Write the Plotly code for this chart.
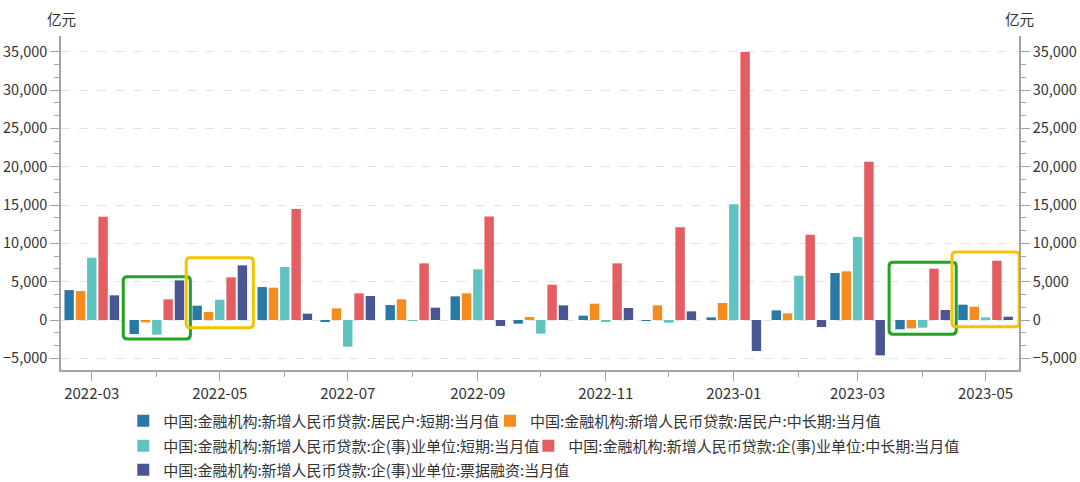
import plotly.graph_objects as go
from datetime import datetime, timedelta

# ---------------- data ----------------
months = ["2022-03", "2022-04", "2022-05", "2022-06", "2022-07", "2022-08", "2022-09",
          "2022-10", "2022-11", "2022-12", "2023-01", "2023-02", "2023-03", "2023-04", "2023-05"]

series_names = [
    "中国:金融机构:新增人民币贷款:居民户:短期:当月值",
    "中国:金融机构:新增人民币贷款:居民户:中长期:当月值",
    "中国:金融机构:新增人民币贷款:企(事)业单位:短期:当月值",
    "中国:金融机构:新增人民币贷款:企(事)业单位:中长期:当月值",
    "中国:金融机构:新增人民币贷款:企(事)业单位:票据融资:当月值",
]

household_short = [3900, -1830, 1870, 4300, -130, 1950, 3090, -480, 570, -40, 350, 1260, 6130, -1220, 2000]
household_long = [3780, -300, 1040, 4220, 1520, 2700, 3480, 390, 2130, 1910, 2220, 870, 6350, -1090, 1740]
corp_short = [8130, -1910, 2650, 6910, -3480, -90, 6610, -1780, -220, -350, 15090, 5780, 10830, -1000, 350]
corp_long = [13480, 2700, 5570, 14480, 3480, 7390, 13520, 4610, 7390, 12090, 34950, 11130, 20650, 6700, 7740]
corp_bill = [3220, 5170, 7130, 830, 3130, 1610, -780, 1910, 1570, 1130, -4040, -910, -4610, 1300, 430]

series_values = [household_short, household_long, corp_short, corp_long, corp_bill]
series_colors = ["#2a78a6", "#f68b1f", "#5fc3c2", "#e35d61", "#4a5593"]

y_ticks = [-5000, 0, 5000, 10000, 15000, 20000, 25000, 30000, 35000]
y_range = [-6520, 37050]
x_range = ["2022-02-14 08:00", "2023-05-16 22:00"]

# highlight boxes: (month, colour, lower value, upper value)
highlights = [
    ("2022-04", "#22a322", -2480, 5650),
    ("2022-05", "#f7c200", -1000, 8130),
    ("2023-04", "#22a322", -1870, 7530),
    ("2023-05", "#f7c200", -870, 8870),
]

# ---------------- styling constants ----------------
DAY_MS = 86400000
pitch_days = 5.39
width_days = 4.48
box_half_days = 16.0
axis_color = "#a3a3a3"
font_family = "Noto Sans CJK SC, Noto Sans, sans-serif"
# legend placement for each series (paper coords): (x, y)
legend_pos = [(0.065, -0.1527), (0.4478, -0.1527),
              (0.065, -0.2275), (0.4878, -0.2275),
              (0.065, -0.2994)]
legend_ids = ["legend", "legend2", "legend3", "legend4", "legend5"]

x_dates = [m + "-01" for m in months]

fig = go.Figure()
n = len(series_values)
for i, (name, vals, col) in enumerate(zip(series_names, series_values, series_colors)):
    center = (i - (n - 1) / 2) * pitch_days
    fig.add_trace(go.Bar(
        x=x_dates, y=vals, name=name,
        marker=dict(color=col, line=dict(width=0)),
        width=width_days * DAY_MS,
        offset=(center - width_days / 2) * DAY_MS,
        legend=legend_ids[i],
        hovertemplate="%{x|%Y-%m}: %{y:,}<extra></extra>",
    ))

# minor ticks for y: thirds between major ticks
step = y_ticks[1] - y_ticks[0]
minor_y = []
for t in y_ticks:
    for k in (1, 2):
        v = t - step * k / 3
        if y_range[0] <= v <= y_range[1]:
            minor_y.append(v)

yaxis_common = dict(
    range=y_range, automargin=False,
    tickmode="array", tickvals=y_ticks,
    tickformat=",d",
    showline=True, linecolor=axis_color, linewidth=1.5,
    ticks="outside", ticklen=9, tickcolor=axis_color, tickwidth=1.2,
    tickfont=dict(size=14.5, color="#333333", family=font_family),
    minor=dict(tickmode="array", tickvals=minor_y, ticks="outside", ticklen=5,
               tickcolor=axis_color, tickwidth=1.2, showgrid=False),
    zeroline=False,
)

legend_common = dict(
    orientation="h", xanchor="left", yanchor="middle",
    font=dict(size=15, color="#333333", family=font_family),
    bgcolor="rgba(0,0,0,0)",
)

legend_layout = {lid: dict(**legend_common, x=px, y=py) for lid, (px, py) in zip(legend_ids, legend_pos)}

fig.update_layout(
    width=1080, height=482,
    margin=dict(l=61, r=61, t=36, b=112, autoexpand=False),
    paper_bgcolor="white", plot_bgcolor="white",
    barmode="overlay",
    font=dict(family=font_family, color="#333333"),
    xaxis=dict(
        type="date", range=x_range, automargin=False,
        dtick="M2", tick0="2022-03-01", tickformat="%Y-%m",
        ticklabelmode="instant",
        showline=True, linecolor=axis_color, linewidth=1.5,
        ticks="outside", ticklen=9, tickcolor=axis_color, tickwidth=1.2,
        tickfont=dict(size=15, color="#333333", family=font_family),
        minor=dict(dtick="M1", tick0="2022-03-01", ticks="outside", ticklen=5,
                   tickcolor=axis_color, tickwidth=1.2, showgrid=False),
        showgrid=False, zeroline=False,
    ),
    yaxis=dict(**yaxis_common, showgrid=True, gridcolor="#e3e3e3", griddash="dash", gridwidth=1),
    yaxis2=dict(**yaxis_common, overlaying="y", side="right", showgrid=False),
    showlegend=True,
    **legend_layout,
)

# invisible trace to anchor the right axis
fig.add_trace(go.Scatter(x=x_dates, y=corp_long, yaxis="y2", mode="markers",
                         marker=dict(opacity=0), showlegend=False, hoverinfo="skip"))

# unit labels
for xp in (0.0, 1.0):
    fig.add_annotation(text="亿元", xref="paper", yref="paper", x=xp, y=1.0, yshift=18,
                       xanchor="center", yanchor="middle", showarrow=False,
                       font=dict(size=14.5, color="#333333", family=font_family))

# rounded highlight boxes (data coordinates; date axis -> ms)
epoch = datetime(1970, 1, 1)
r_days = 1.9
r_val = 520
for month, col, lo, hi in highlights:
    c = datetime.strptime(month + "-01", "%Y-%m-%d")
    x0 = (c - timedelta(days=box_half_days) - epoch).total_seconds() * 1000
    x1 = (c + timedelta(days=box_half_days) - epoch).total_seconds() * 1000
    rx = r_days * DAY_MS
    ry = r_val
    path = (f"M{x0 + rx},{hi} L{x1 - rx},{hi} Q{x1},{hi} {x1},{hi - ry} "
            f"L{x1},{lo + ry} Q{x1},{lo} {x1 - rx},{lo} "
            f"L{x0 + rx},{lo} Q{x0},{lo} {x0},{lo + ry} "
            f"L{x0},{hi - ry} Q{x0},{hi} {x0 + rx},{hi} Z")
    fig.add_shape(type="path", path=path, xref="x", yref="y",
                  line=dict(color=col, width=3), fillcolor="rgba(0,0,0,0)", layer="above")

fig.write_html("out.html",
               config={"displayModeBar": False},
               post_script="document.body.style.margin='0px';document.body.style.overflow='hidden';")
